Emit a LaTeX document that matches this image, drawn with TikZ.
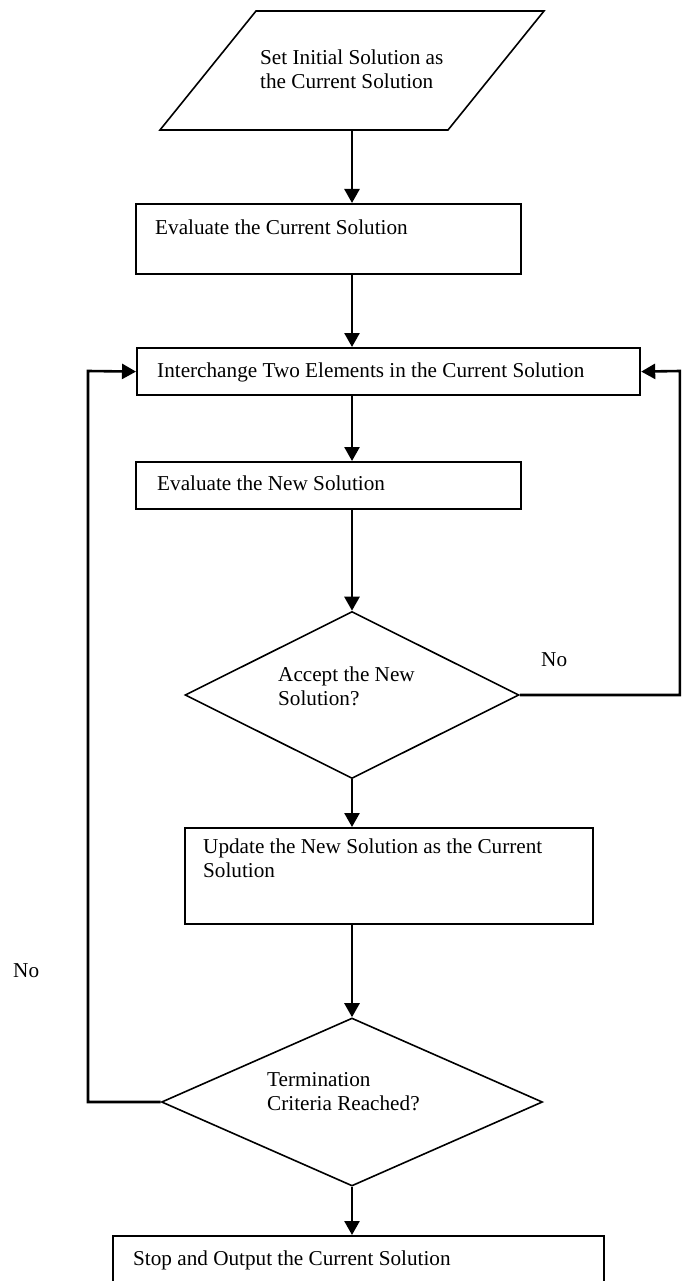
\documentclass[tikz,border=0pt]{standalone}
\usepackage{fontspec}
\setmainfont{Liberation Serif}
\usetikzlibrary{arrows.meta,shapes.geometric}

\begin{document}
\begin{tikzpicture}[x=1pt,y=-1pt,
  every node/.style={font=\fontsize{21.2}{24}\selectfont},
  procbox/.style={draw,line width=2.2pt,rectangle,inner sep=0pt,anchor=north west},
  decision/.style={draw,line width=1.6pt,diamond,inner sep=0pt},
  txt/.style={anchor=base west,inner sep=0pt},
  flow/.style={line width=2.6pt,line join=miter,-{Triangle[length=14pt,width=15pt]}}]
\clip (0,0) rectangle (681,1281);
\useasboundingbox (0,0) rectangle (681,1281);

% spine of the main flow and turning points of the two loops
\coordinate (spine) at (352,0);
\coordinate (rturn) at (680,371);
\coordinate (lturn) at (88,371);

% input step
\draw[line width=1.6pt] (160,130) -- (256,11) -- (544,11) -- (448,130) -- cycle;
\coordinate (init) at (352,130);
\node[txt] (tinit1) at (260,65) {Set Initial Solution as};
\node[txt] (tinit2) at (260,89) {the Current Solution};

% process boxes and decisions
\node[procbox,minimum width=385pt,minimum height=70pt] (eval) at (135,203) {};
\node[txt] (teval) at (155,235) {Evaluate the Current Solution};

\node[procbox,minimum width=503pt,minimum height=47pt] (swap) at (136,347) {};
\node[txt] (tswap) at (157,377) {Interchange Two Elements in the Current Solution};

\node[procbox,minimum width=385pt,minimum height=47pt] (evalnew) at (135,461) {};
\node[txt] (tevalnew) at (157,490) {Evaluate the New Solution};

\node[decision,minimum width=334pt,minimum height=167pt] (accept) at (352,695) {};
\node[txt] (taccept1) at (278,681) {Accept the New};
\node[txt] (taccept2) at (278,705) {Solution?};

\node[procbox,minimum width=408pt,minimum height=96pt] (update) at (184,827) {};
\node[txt] (tupdate1) at (203,853) {Update the New Solution as the Current};
\node[txt] (tupdate2) at (203,877) {Solution};

\node[decision,minimum width=381pt,minimum height=168pt] (term) at (352,1102) {};
\node[txt] (tterm1) at (267,1086) {Termination};
\node[txt] (tterm2) at (267,1110) {Criteria Reached?};

\node[procbox,minimum width=491pt,minimum height=80pt] (stop) at (112,1235) {};
\node[txt] (tstop) at (133,1265) {Stop and Output the Current Solution};

% labels of the rejecting branches
\node[txt] (noaccept) at (541,666) {No};
\node[txt] (noterm) at (13,977) {No};

% main flow
\draw[flow] (init) -- (eval.north -| spine);
\draw[flow] (eval.south -| spine) -- (swap.north -| spine);
\draw[flow] (swap.south -| spine) -- (evalnew.north -| spine);
\draw[flow] (evalnew.south -| spine) -- (accept.north);
\draw[flow] (accept.south) -- (update.north -| spine);
\draw[flow] (update.south -| spine) -- (term.north);
\draw[flow] (term.south) -- (stop.north -| spine);

% loops back to the interchange step
\draw[flow] (accept.east) -| (rturn) -- (swap.east);
\draw[flow] (term.west) -| (lturn) -- (swap.west);
\end{tikzpicture}
\end{document}
